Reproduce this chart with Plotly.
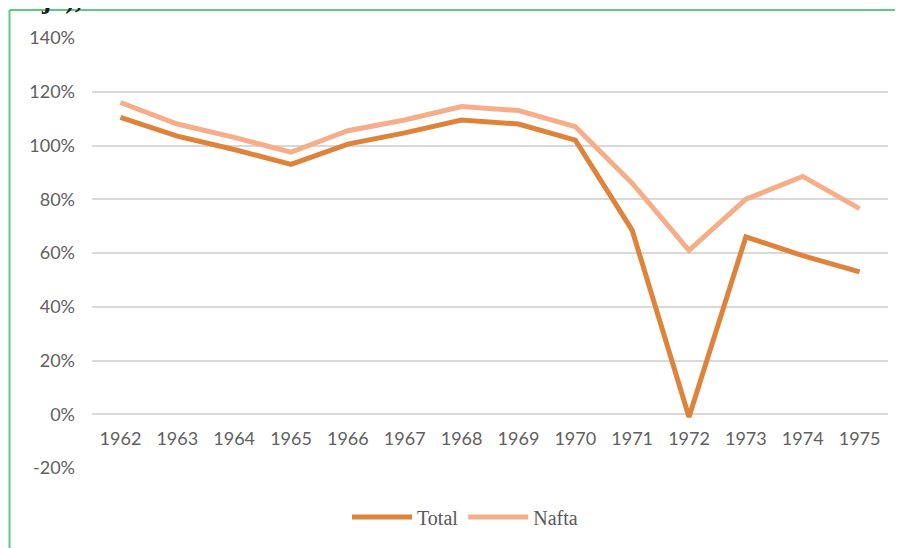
import plotly.graph_objects as go

years = ["1962", "1963", "1964", "1965", "1966", "1967", "1968", "1969",
         "1970", "1971", "1972", "1973", "1974", "1975"]
total = [110.5, 103.5, 98.5, 93, 100.5, 104.7, 109.5, 108, 102, 68.5, -1, 66, 59, 53]
nafta = [116, 108, 103, 97.5, 105.5, 109.5, 114.5, 113, 107, 86, 61, 80, 88.5, 76.5]

y_ticks = [-20, 0, 20, 40, 60, 80, 100, 120, 140]
y_labels = [f"{v}%" for v in y_ticks]

W, H = 903, 548
OFF = 8  # page offset of the figure in the screenshot
L, R, T, B = 92 - OFF, 903 - (888 - OFF), 38 - OFF, 548 - (468 - OFF)
pw, ph = W - L - R, H - T - B

def px(xs):
    return (xs - OFF - L) / pw

def py(ys):
    return (H - B - (ys - OFF)) / ph

fig = go.Figure()
fig.add_trace(go.Scatter(x=years, y=total, mode="lines", name="Total",
                         line=dict(color="#DE8339", width=5)))
fig.add_trace(go.Scatter(x=years, y=nafta, mode="lines", name="Nafta",
                         line=dict(color="#F5AE88", width=5)))

fig.update_layout(
    width=W, height=H,
    margin=dict(l=L, r=R, t=T, b=B),
    paper_bgcolor="white", plot_bgcolor="white",
    font=dict(family="Lato", size=18, color="#606060"),
    showlegend=True,
    legend=dict(orientation="h", x=px(465), xanchor="center", y=py(517), yanchor="middle",
                font=dict(family="Liberation Serif", size=20, color="#595959"),
                itemwidth=60, traceorder="normal"),
    xaxis=dict(type="category", range=[-0.5, 13.5], showgrid=False, zeroline=False,
               showline=False, ticks="", anchor="free", position=py(414),
               ticklabelstandoff=12, tickfont=dict(family="Lato", size=18, color="#606060")),
    yaxis=dict(range=[-20, 140], tickvals=y_ticks, ticktext=y_labels,
               showgrid=True, gridcolor="#d9d9d9", gridwidth=1.5, zeroline=False,
               showline=False, ticks="", ticklabelstandoff=16,
               tickfont=dict(family="Lato", size=18, color="#606060")),
    shapes=[
        dict(type="line", xref="paper", yref="paper", x0=px(9.5), x1=px(9.5),
             y0=py(10), y1=py(570), line=dict(color="#5CC98A", width=2)),
        dict(type="line", xref="paper", yref="paper", x0=px(9.5), x1=px(915),
             y0=py(10), y1=py(10), line=dict(color="#5CC98A", width=2)),
    ],
    annotations=[
        dict(text="<b>ajo), 1962-1975</b>", xref="paper", yref="paper",
             x=px(212), y=py(16), xanchor="right", yanchor="bottom", showarrow=False,
             font=dict(family="Liberation Serif", size=28, color="#1a1a1a"))
    ],
)

fig.write_html("out.html")
